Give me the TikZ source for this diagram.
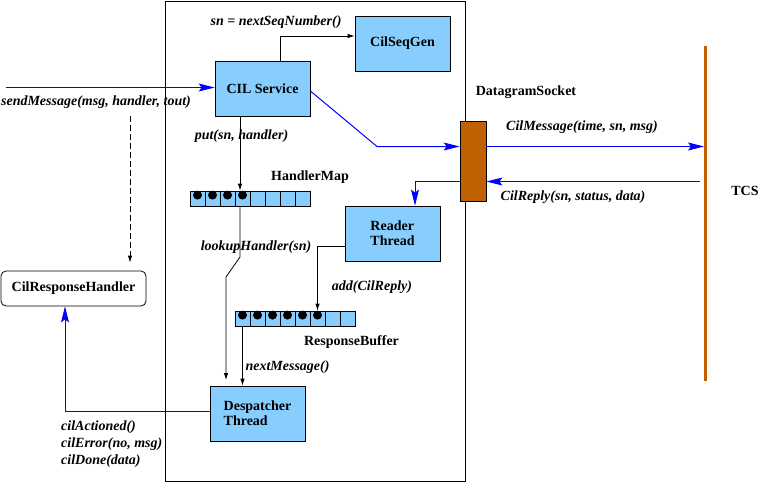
\documentclass[tikz,border=0pt]{standalone}
\usepackage{fontspec}
\setmainfont{Liberation Serif}
\usetikzlibrary{positioning, calc, arrows.meta}
\definecolor{figblue}{HTML}{87CEFF}
\definecolor{figbrown}{HTML}{C06000}

\begin{document}
\begin{tikzpicture}[
    x=1pt, y=-1pt,
    box/.style={draw, line width=0.8pt, fill=figblue, minimum width=95pt, minimum height=55pt, font=\fontsize{14}{15}\selectfont\bfseries, align=left},
    cell/.style={draw, line width=0.8pt, fill=figblue, minimum size=15pt, inner sep=0pt},
    lbl/.style={font=\fontsize{14}{17}\selectfont\bfseries\itshape, inner sep=0pt},
    tag/.style={font=\fontsize{14}{15}\selectfont\bfseries, inner sep=0pt},
    arr/.style={line width=0.8pt, -{Latex[length=7pt, width=4.5pt]}},
    blarr/.style={line width=1pt, blue, -{Stealth[length=16pt, width=8pt, inset=3pt]}},
  ]
  \useasboundingbox (0,0) rectangle (761,482);
  % frame
  \draw[line width=0.8pt] (165.5,1.5) rectangle (465.5,481);
  % boxes
  \node[box] (cil) at (262.5,88.5) {CIL Service};
  \node[box] (seqgen) at (402.5,43.5) {CilSeqGen};
  \node[box] (reader) at (392.5,233.5) {Reader\\Thread};
  \node[box] (desp) at (257.5,413.5) {Despatcher\\Thread};
  \node[draw, line width=0.8pt, rounded corners=5pt, minimum width=145pt, minimum height=35pt,
    font=\fontsize{14}{15}\selectfont\bfseries] (handler) at (73.5,288.5) {CilResponseHandler};
  \node[draw, line width=0.8pt, fill=figbrown, minimum width=26pt, minimum height=80pt] (sock) at (473,161) {};
  % queues
  \foreach \i in {0,...,7} {
    \node[cell] (h\i) at (197.5+15*\i, 198.5) {};
    \node[cell] (r\i) at (242.5+15*\i, 318.5) {};
  }
  \foreach \i in {0,...,3}
    \fill ($(h\i.north)+(0,4.5)$) circle (4.5pt);
  \foreach \i in {0,...,5}
    \fill ($(r\i.north)+(0,4.5)$) circle (4.5pt);
  % TCS line
  \coordinate (tcstop) at (705.5,46);
  \coordinate (tcsbot) at (705.5,381);
  \draw[figbrown, line width=3pt] (tcstop) -- (tcsbot);
  % helper points
  \coordinate (src) at (6,87.5);
  \coordinate (kink) at (377,146.5);
  \coordinate (tcsrep) at (700,181.5);
  \coordinate (dtop) at (130,116);
  \coordinate (bend1) at (240,257);
  \coordinate (bend2) at (226,277);
  \coordinate (lookend) at (226,380);
  % black connectors
  \draw[arr] ([xshift=17.5pt]cil.north) |- ([yshift=7.5pt]seqgen.west);
  \draw[arr] ([xshift=-22.5pt]cil.south) -- ([xshift=-22.5pt]cil.south |- h3.north);
  \draw[arr] (h3.south -| bend1) -- (bend1) -- (bend2) -- (lookend);
  \draw[arr] ([yshift=-12.5pt]reader.west) -| (r5.north);
  \draw[arr] (r0.south) -- (r0.south |- desp.north);
  \draw[arr, dash pattern=on 6pt off 3pt] (dtop) -- ([xshift=56.5pt, yshift=8pt]handler.north);
  % blue connectors
  \draw[blarr] (src) -- (cil.west |- src);
  \draw[blarr] ([yshift=-2.5pt]cil.east) -- (kink) -- (kink -| sock.west);
  \draw[blarr] (kink -| sock.east) -- ([xshift=-1.5pt]kink -| tcstop);
  \draw[blarr] (tcsrep) -- (tcsrep -| sock.east);
  \draw[blarr] (tcsrep -| sock.west) -| ([xshift=22.5pt]reader.north);
  \draw[blarr] ([yshift=2.5pt]desp.west) -| ([xshift=-8.5pt]handler.south);
  % labels
  \node[lbl] (lseq) at (276,22) {sn = nextSeqNumber()};
  \node[lbl] (lsend) at (96,102) {sendMessage(msg, handler, tout)};
  \node[lbl] (lput) at (241.5,136) {put(sn, handler)};
  \node[tag] (lhmap) at (310,177) {HandlerMap};
  \node[lbl] (llook) at (256,247) {lookupHandler(sn)};
  \node[lbl] (ladd) at (372,287) {add(CilReply)};
  \node[tag] (lrbuf) at (351.5,342) {ResponseBuffer};
  \node[lbl] (lnext) at (287.5,367) {nextMessage()};
  \node[lbl, align=left, anchor=west] (lcb) at (61,444) {cilActioned()\\cilError(no, msg)\\cilDone(data)};
  \node[tag] (lsock) at (526,92) {DatagramSocket};
  \node[lbl] (lmsg) at (582,127) {CilMessage(time, sn, msg)};
  \node[lbl] (lrep) at (573,197) {CilReply(sn, status, data)};
  \node[tag] (ltcs) at (745,191) {TCS};
\end{tikzpicture}
\end{document}
